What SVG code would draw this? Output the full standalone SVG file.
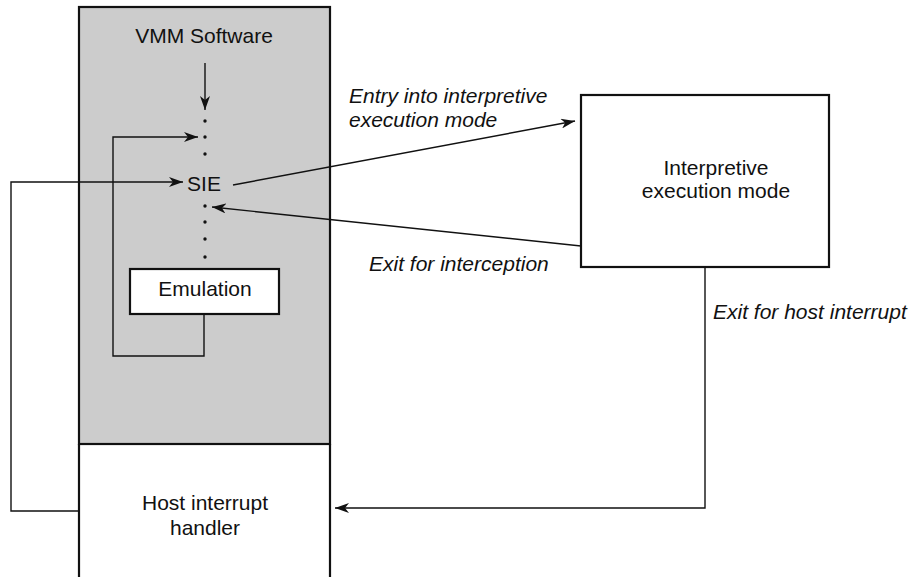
<svg xmlns="http://www.w3.org/2000/svg" width="924" height="577" viewBox="0 0 924 577">
<style>
text{font-family:"Liberation Sans",Arial,sans-serif;font-size:21px;fill:#111}
.it{font-style:italic}
.c{text-anchor:middle}
.box{stroke:#111;stroke-width:2.2;fill:#fff}
.ln{stroke:#111;stroke-width:1.4;fill:none}
.dot{fill:#111}
</style>
<defs>
<marker id="ah" viewBox="0 0 14 10" refX="14" refY="5" markerWidth="14" markerHeight="10" markerUnits="userSpaceOnUse" orient="auto">
<path d="M0,0 L14,5 L0,10 L4,5 Z" fill="#111"/>
</marker>
</defs>
<rect width="924" height="577" fill="#fff"/>
<g id="vmm">
<rect x="79" y="7" width="251" height="437" fill="#cccccc" stroke="#111" stroke-width="2.2"/>
<text class="c" x="204" y="43">VMM Software</text>
</g>
<g id="host">
<path d="M79,444 V577 M330,444 V577" stroke="#111" stroke-width="2.2" fill="none"/>
<text class="c" x="205" y="510">Host interrupt</text>
<text class="c" x="205" y="535">handler</text>
</g>
<g id="sie">
<text class="c" x="204" y="191">SIE</text>
<circle class="dot" cx="205" cy="121" r="1.7"/>
<circle class="dot" cx="205" cy="137" r="1.7"/>
<circle class="dot" cx="205" cy="154" r="1.7"/>
<circle class="dot" cx="205" cy="206" r="1.7"/>
<circle class="dot" cx="205" cy="222" r="1.7"/>
<circle class="dot" cx="205" cy="239" r="1.7"/>
<circle class="dot" cx="205" cy="257" r="1.7"/>
</g>
<g id="emulation">
<rect class="box" x="130" y="269" width="149" height="45" stroke-width="1.8"/>
<text class="c" x="205" y="296">Emulation</text>
</g>
<g id="interp">
<rect class="box" x="581" y="95" width="248" height="172"/>
<text class="c" x="716" y="175">Interpretive</text>
<text class="c" x="716" y="198">execution mode</text>
</g>
<g id="connectors">
<path class="ln" d="M205,63 V110" marker-end="url(#ah)"/>
<path class="ln" d="M204,314 V356 H113 V137 H198" marker-end="url(#ah)"/>
<path class="ln" d="M79,511 H11 V182 H183" marker-end="url(#ah)"/>
<path class="ln" d="M233,185 L575,121" marker-end="url(#ah)"/>
<path class="ln" d="M581,246 L212,207" marker-end="url(#ah)"/>
<path class="ln" d="M705,267 V508 H335" marker-end="url(#ah)"/>
</g>
<g id="labels">
<text class="it" x="349" y="103">Entry into interpretive</text>
<text class="it" x="349" y="127">execution mode</text>
<text class="it" x="369" y="271">Exit for interception</text>
<text class="it" x="713" y="319">Exit for host interrupt</text>
</g>
</svg>
